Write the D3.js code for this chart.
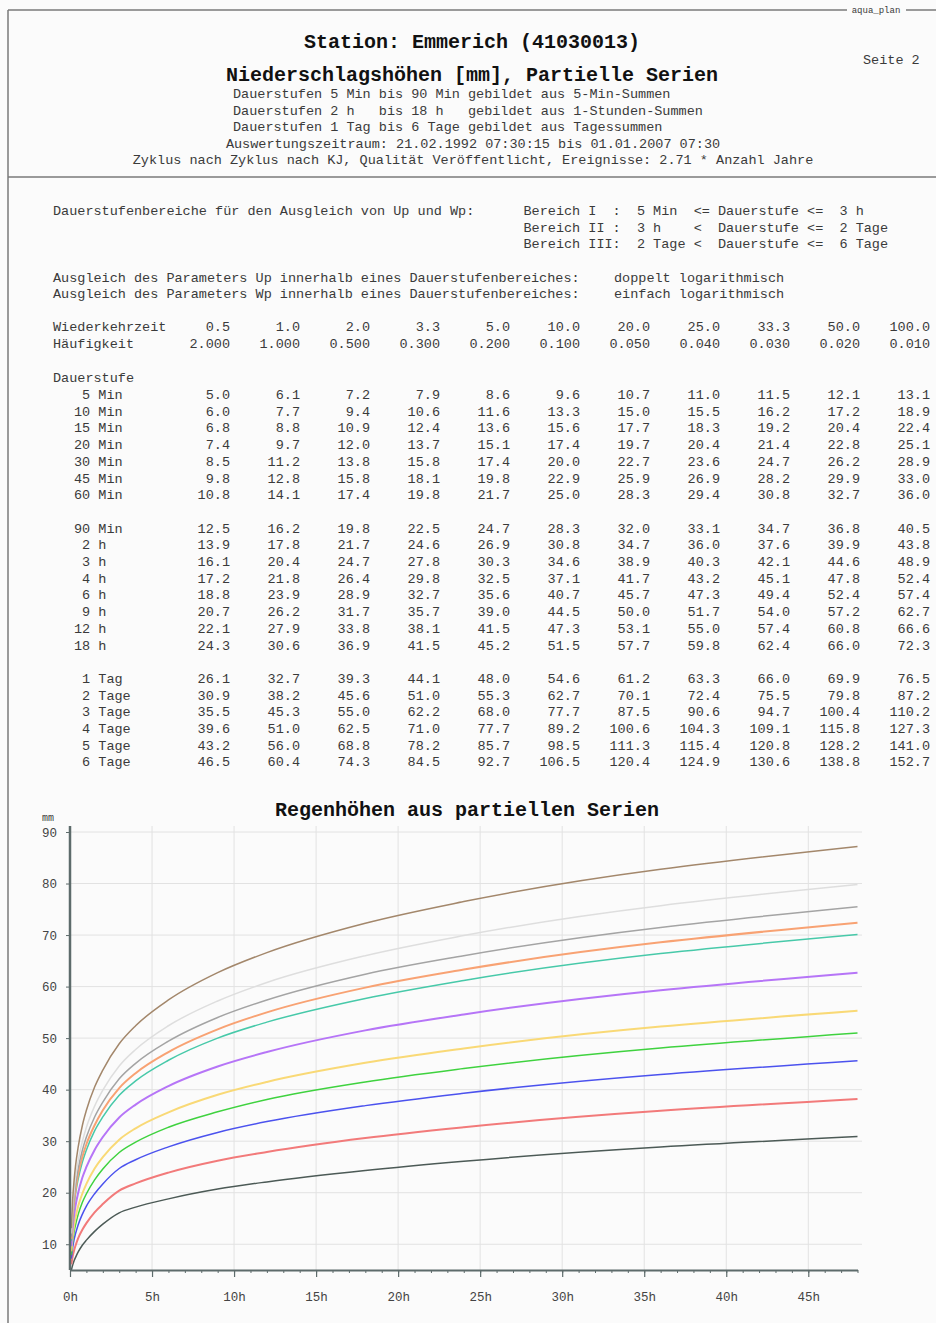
<!DOCTYPE html>
<html>
<head>
<meta charset="utf-8">
<title>Regenhöhen aus partiellen Serien</title>
<script src="https://cdn.jsdelivr.net/npm/d3@7/dist/d3.min.js"></script>
<style>
  html, body { margin: 0; padding: 0; background: #fbfbfb; }
  svg { display: block; }
  text { font-family: "Liberation Mono", "Courier New", monospace; fill: #3a3a3a; white-space: pre; }
  .title { font-weight: bold; font-size: 20px; fill: #111; }
  .small { font-size: 13.5px; }
  .grid line { stroke: #e2e2e2; stroke-width: 1; }
  .axis path, .axis line { stroke: #5d6b6b; }
  .axis text { font-family: "Liberation Mono", "Courier New", monospace; font-size: 12.5px; fill: #444; }
</style>
</head>
<body>
<svg id="page" width="936" height="1323"></svg>
<script>
// Wiederkehrzeit (Jahre) und Häufigkeit
var returnPeriods = [0.5, 1.0, 2.0, 3.3, 5.0, 10.0, 20.0, 25.0, 33.3, 50.0, 100.0];
var frequencies = ["2.000", "1.000", "0.500", "0.300", "0.200", "0.100", "0.050", "0.040", "0.030", "0.020", "0.010"];

// Dauerstufen: Beschriftung und Dauer in Stunden
var durationLabels = [" 5 Min", "10 Min", "15 Min", "20 Min", "30 Min", "45 Min", "60 Min",
                      "90 Min", " 2 h", " 3 h", " 4 h", " 6 h", " 9 h", "12 h", "18 h",
                      " 1 Tag", " 2 Tage", " 3 Tage", " 4 Tage", " 5 Tage", " 6 Tage"];
var durationHours = [5/60, 10/60, 15/60, 20/60, 0.5, 0.75, 1, 1.5, 2, 3, 4, 6, 9, 12, 18,
                     24, 48, 72, 96, 120, 144];
// Blockgruppen der Tabelle
var durationGroup = [0,0,0,0,0,0,0, 1,1,1,1,1,1,1,1, 2,2,2,2,2,2];

// Niederschlagshöhen [mm], Zeilen = Dauerstufe, Spalten = Wiederkehrzeit
var rain = [
  [5.0, 6.1, 7.2, 7.9, 8.6, 9.6, 10.7, 11.0, 11.5, 12.1, 13.1],
  [6.0, 7.7, 9.4, 10.6, 11.6, 13.3, 15.0, 15.5, 16.2, 17.2, 18.9],
  [6.8, 8.8, 10.9, 12.4, 13.6, 15.6, 17.7, 18.3, 19.2, 20.4, 22.4],
  [7.4, 9.7, 12.0, 13.7, 15.1, 17.4, 19.7, 20.4, 21.4, 22.8, 25.1],
  [8.5, 11.2, 13.8, 15.8, 17.4, 20.0, 22.7, 23.6, 24.7, 26.2, 28.9],
  [9.8, 12.8, 15.8, 18.1, 19.8, 22.9, 25.9, 26.9, 28.2, 29.9, 33.0],
  [10.8, 14.1, 17.4, 19.8, 21.7, 25.0, 28.3, 29.4, 30.8, 32.7, 36.0],
  [12.5, 16.2, 19.8, 22.5, 24.7, 28.3, 32.0, 33.1, 34.7, 36.8, 40.5],
  [13.9, 17.8, 21.7, 24.6, 26.9, 30.8, 34.7, 36.0, 37.6, 39.9, 43.8],
  [16.1, 20.4, 24.7, 27.8, 30.3, 34.6, 38.9, 40.3, 42.1, 44.6, 48.9],
  [17.2, 21.8, 26.4, 29.8, 32.5, 37.1, 41.7, 43.2, 45.1, 47.8, 52.4],
  [18.8, 23.9, 28.9, 32.7, 35.6, 40.7, 45.7, 47.3, 49.4, 52.4, 57.4],
  [20.7, 26.2, 31.7, 35.7, 39.0, 44.5, 50.0, 51.7, 54.0, 57.2, 62.7],
  [22.1, 27.9, 33.8, 38.1, 41.5, 47.3, 53.1, 55.0, 57.4, 60.8, 66.6],
  [24.3, 30.6, 36.9, 41.5, 45.2, 51.5, 57.7, 59.8, 62.4, 66.0, 72.3],
  [26.1, 32.7, 39.3, 44.1, 48.0, 54.6, 61.2, 63.3, 66.0, 69.9, 76.5],
  [30.9, 38.2, 45.6, 51.0, 55.3, 62.7, 70.1, 72.4, 75.5, 79.8, 87.2],
  [35.5, 45.3, 55.0, 62.2, 68.0, 77.7, 87.5, 90.6, 94.7, 100.4, 110.2],
  [39.6, 51.0, 62.5, 71.0, 77.7, 89.2, 100.6, 104.3, 109.1, 115.8, 127.3],
  [43.2, 56.0, 68.8, 78.2, 85.7, 98.5, 111.3, 115.4, 120.8, 128.2, 141.0],
  [46.5, 60.4, 74.3, 84.5, 92.7, 106.5, 120.4, 124.9, 130.6, 138.8, 152.7]
];

var seriesColors = ["#4c5a56", "#f27a7a", "#4b52ee", "#3fd23f", "#f9d976", "#b675f7",
                    "#47c9a9", "#f8a273", "#a4a4a4", "#dedede", "#a3876b"];

var xTicks = [0, 5, 10, 15, 20, 25, 30, 35, 40, 45];
var yTicks = [10, 20, 30, 40, 50, 60, 70, 80, 90];

var svg = d3.select("#page");

// Rahmen
svg.append("line").attr("x1", 8).attr("x2", 8).attr("y1", 10).attr("y2", 1323)
   .attr("stroke", "#7a7a7a").attr("stroke-width", 1.5);
svg.append("line").attr("x1", 8).attr("x2", 847).attr("y1", 10).attr("y2", 10)
   .attr("stroke", "#7a7a7a").attr("stroke-width", 1.5);
svg.append("line").attr("x1", 906).attr("x2", 936).attr("y1", 10).attr("y2", 10)
   .attr("stroke", "#7a7a7a").attr("stroke-width", 1.5);
svg.append("line").attr("x1", 8).attr("x2", 936).attr("y1", 177).attr("y2", 177)
   .attr("stroke", "#7a7a7a").attr("stroke-width", 1.5);
svg.append("text").attr("x", 876).attr("y", 13).attr("text-anchor", "middle")
   .style("font-size", "9px").text("aqua_plan");

// Kopf
svg.append("text").attr("class", "title").attr("x", 472).attr("y", 48)
   .attr("text-anchor", "middle").text("Station: Emmerich (41030013)");
svg.append("text").attr("class", "title").attr("x", 472).attr("y", 81)
   .attr("text-anchor", "middle").text("Niederschlagshöhen [mm], Partielle Serien");
svg.append("text").attr("class", "small").attr("x", 863).attr("y", 64).text("Seite 2");

var headLines = [
  ["Dauerstufen 5 Min bis 90 Min gebildet aus 5-Min-Summen", 233, "start"],
  ["Dauerstufen 2 h   bis 18 h   gebildet aus 1-Stunden-Summen", 233, "start"],
  ["Dauerstufen 1 Tag bis 6 Tage gebildet aus Tagessummen", 233, "start"],
  ["Auswertungszeitraum: 21.02.1992 07:30:15 bis 01.01.2007 07:30", 473, "middle"],
  ["Zyklus nach Zyklus nach KJ, Qualität Veröffentlicht, Ereignisse: 2.71 * Anzahl Jahre", 473, "middle"]
];
headLines.forEach(function (d, i) {
  svg.append("text").attr("class", "small").attr("x", d[1]).attr("y", 98 + i * 16.6)
     .attr("text-anchor", d[2]).text(d[0]);
});

// Bereiche
var infoLines = [
  ["Dauerstufenbereiche für den Ausgleich von Up und Wp:", "Bereich I  :  5 Min  <= Dauerstufe <=  3 h", 215],
  ["", "Bereich II :  3 h    <  Dauerstufe <=  2 Tage", 231.6],
  ["", "Bereich III:  2 Tage <  Dauerstufe <=  6 Tage", 248.2],
  ["Ausgleich des Parameters Up innerhalb eines Dauerstufenbereiches:", "doppelt logarithmisch", 281.5],
  ["Ausgleich des Parameters Wp innerhalb eines Dauerstufenbereiches:", "einfach logarithmisch", 298]
];
infoLines.forEach(function (d, i) {
  svg.append("text").attr("class", "small").attr("x", 53).attr("y", d[2]).text(d[0]);
  svg.append("text").attr("class", "small").attr("x", i < 3 ? 523.5 : 614).attr("y", d[2]).text(d[1]);
});

// Tabelle
var col = d3.scaleLinear().domain([0, 10]).range([230, 930]);
var tbl = svg.append("g").attr("class", "small").style("font-size", "13.5px");

tbl.append("text").attr("x", 53).attr("y", 331).text("Wiederkehrzeit");
tbl.append("text").attr("x", 53).attr("y", 348).text("Häufigkeit");
tbl.append("text").attr("x", 53).attr("y", 382).text("Dauerstufe");

tbl.selectAll("text.rp").data(returnPeriods).enter().append("text")
   .attr("x", function (d, i) { return col(i); }).attr("y", 331)
   .attr("text-anchor", "end").text(function (d) { return d.toFixed(1); });
tbl.selectAll("text.fq").data(frequencies).enter().append("text")
   .attr("x", function (d, i) { return col(i); }).attr("y", 348)
   .attr("text-anchor", "end").text(function (d) { return d; });

function rowY(i) { return 399 + i * 16.7 + durationGroup[i] * 16.7; }

durationLabels.forEach(function (lab, i) {
  tbl.append("text").attr("x", 74).attr("y", rowY(i)).text(lab);
  tbl.selectAll(null).data(rain[i]).enter().append("text")
     .attr("x", function (d, j) { return col(j); }).attr("y", rowY(i))
     .attr("text-anchor", "end").text(function (d) { return d.toFixed(1); });
});

// Diagramm
svg.append("text").attr("class", "title").attr("x", 467).attr("y", 816)
   .attr("text-anchor", "middle").text("Regenhöhen aus partiellen Serien");
svg.append("text").attr("x", 42).attr("y", 821).style("font-size", "10px").text("mm");

var x = d3.scaleLinear().domain([0, 48]).range([70, 857.5]);
var y = d3.scaleLinear().domain([5, 90]).range([1270, 832]);

var grid = svg.append("g").attr("class", "grid");
grid.selectAll("line.h").data(yTicks).enter().append("line")
    .attr("x1", x(0)).attr("x2", 862).attr("y1", function (d) { return y(d); })
    .attr("y2", function (d) { return y(d); });
grid.selectAll("line.v").data(xTicks.slice(1)).enter().append("line")
    .attr("x1", function (d) { return x(d); }).attr("x2", function (d) { return x(d); })
    .attr("y1", 826).attr("y2", y(5));

// Kurven bis 2 Tage
var chartIdx = d3.range(0, 17);
var line = d3.line()
  .x(function (d) { return x(d[0]); })
  .y(function (d) { return y(d[1]); })
  .curve(d3.curveMonotoneX);

returnPeriods.forEach(function (rp, j) {
  var pts = chartIdx.map(function (i) { return [durationHours[i], rain[i][j]]; });
  svg.append("path").datum(pts)
     .attr("fill", "none").attr("stroke", seriesColors[j])
     .attr("stroke-width", (j === 1 || j === 4 || j === 5 || j === 7) ? 2 : 1.5)
     .attr("d", line);
});

// Achsen
var xMinor = svg.append("g").attr("class", "axis").attr("transform", "translate(0," + y(5) + ")")
  .call(d3.axisBottom(x).tickValues(d3.range(0, 49, 1)).tickSize(3).tickFormat(""));
xMinor.select(".domain").remove();
xMinor.selectAll("line").attr("stroke-width", 1);

var xAxis = svg.append("g").attr("class", "axis").attr("transform", "translate(0," + y(5) + ")")
  .call(d3.axisBottom(x).tickValues(xTicks).tickSize(7).tickSizeOuter(0).tickPadding(15)
        .tickFormat(function (d) { return d + "h"; }));
xAxis.select(".domain").attr("stroke-width", 2);
xAxis.selectAll(".tick line").attr("stroke-width", 1.2);

var yAxis = svg.append("g").attr("class", "axis").attr("transform", "translate(" + x(0) + ",0)")
  .call(d3.axisLeft(y).tickValues(yTicks).tickSize(4).tickSizeOuter(0).tickPadding(9));
yAxis.select(".domain").attr("d", "M0,826V" + y(5)).attr("stroke-width", 2.5);
</script>
</body>
</html>
